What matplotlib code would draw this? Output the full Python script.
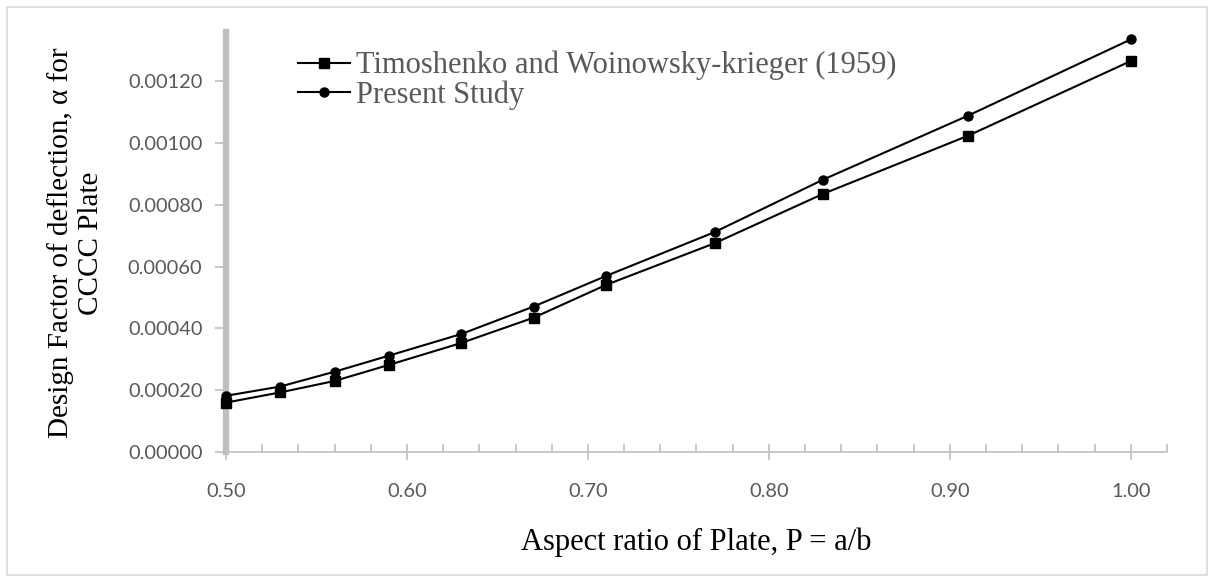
import matplotlib
matplotlib.use("Agg")
import matplotlib.pyplot as plt
from matplotlib.patches import Rectangle
from matplotlib.ticker import FormatStrFormatter, MultipleLocator

# data
aspect_ratio = [0.50, 0.53, 0.56, 0.59, 0.63, 0.67, 0.71, 0.77, 0.83, 0.91, 1.00]
timoshenko = [0.000160, 0.000193, 0.000230, 0.000282, 0.000353, 0.000435,
              0.000541, 0.000676, 0.000836, 0.001024, 0.001266]
present = [0.000182, 0.000212, 0.000260, 0.000312, 0.000382, 0.000471,
           0.000570, 0.000712, 0.000882, 0.001089, 0.001336]
series_labels = ["Timoshenko and Woinowsky-krieger (1959)", "Present Study"]
y_ticks = [0, 0.0002, 0.0004, 0.0006, 0.0008, 0.0010, 0.0012]

W, H = 1214, 581
fig = plt.figure(figsize=(W / 100, H / 100), dpi=100)
ax = fig.add_axes([226 / W, 1 - 452 / H, (1167 - 226) / W, (452 - 32) / H])

ax.plot(aspect_ratio, timoshenko, color="black", lw=1.5, marker="s", ms=6.5,
        label=series_labels[0], clip_on=False, zorder=3)
ax.plot(aspect_ratio, present, color="black", lw=1.5, marker="o", ms=6.5,
        label=series_labels[1], clip_on=False, zorder=3)

ax.set_xlim(0.5, 1.02)
ax.set_ylim(0, 0.00136)
ax.set_xticks([0.5, 0.6, 0.7, 0.8, 0.9, 1.0])
ax.xaxis.set_minor_locator(MultipleLocator(0.02))
ax.set_yticks(y_ticks)
ax.xaxis.set_major_formatter(FormatStrFormatter("%.2f"))
ax.yaxis.set_major_formatter(FormatStrFormatter("%.5f"))

grey = "#BFBFBF"
for s in ["top", "right"]:
    ax.spines[s].set_visible(False)
ax.spines["bottom"].set_color(grey)
ax.spines["bottom"].set_linewidth(1.2)
ax.spines["left"].set_color(grey)
ax.spines["left"].set_linewidth(4.5)

ax.tick_params(axis="x", which="major", direction="inout", length=12, width=1.2,
               color=grey, pad=16)
ax.tick_params(axis="x", which="minor", direction="in", length=6, width=1.2,
               color=grey)
ax.tick_params(axis="y", direction="out", length=8, width=1.2, color=grey, pad=9)
for lab in ax.get_xticklabels() + ax.get_yticklabels():
    lab.set_fontfamily("Lato")
    lab.set_fontsize(14.4)
    lab.set_color("#595959")

ax.set_xlabel("Aspect ratio of Plate, P = a/b", family="Liberation Serif",
              fontsize=22, color="black", labelpad=20)
fig.text(76 / W, 1 - 243 / H, "Design Factor of deflection, α for\nCCCC Plate",
         family="Liberation Serif", fontsize=21, color="black", rotation=90,
         ha="center", va="center", multialignment="center", linespacing=1.2)

ax.legend(loc="upper left", bbox_to_anchor=(298 / W, 1 - 51 / H),
          bbox_transform=fig.transFigure, frameon=False, borderpad=0,
          borderaxespad=0, handlelength=1.7, handletextpad=0.2,
          labelspacing=0.0,
          prop={"family": "Liberation Serif", "size": 22},
          labelcolor="#595959")

fig.patches.append(Rectangle((7 / W, 6 / H), (W - 14) / W, (H - 13) / H,
                             transform=fig.transFigure, fill=False,
                             edgecolor="#D9D9D9", lw=1.2))

fig.savefig("out.png", dpi=100)
